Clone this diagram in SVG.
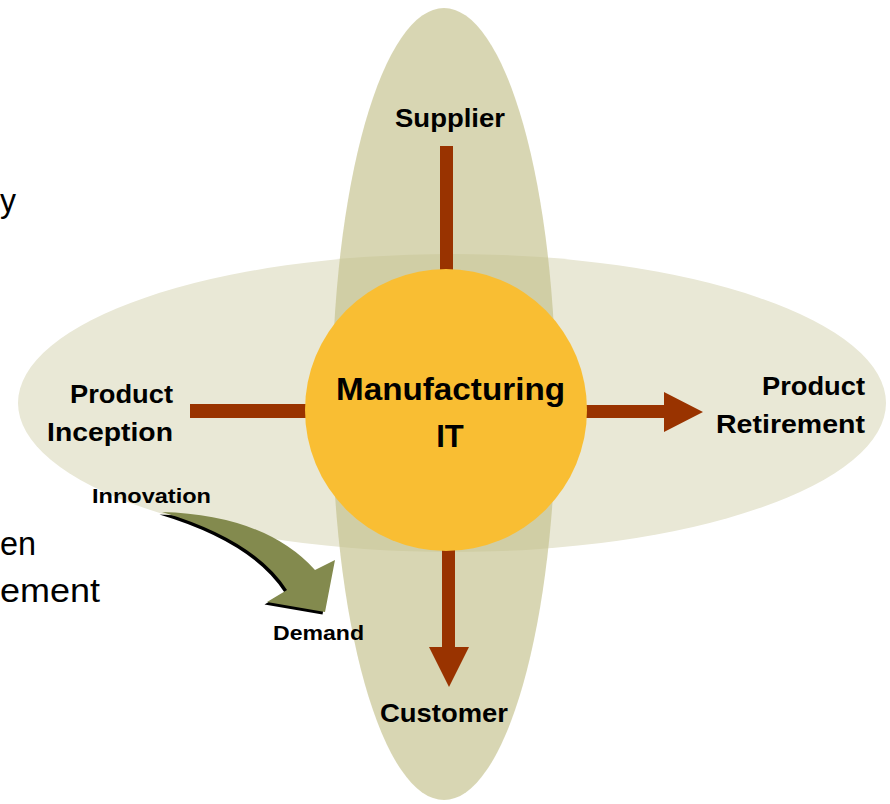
<svg xmlns="http://www.w3.org/2000/svg" width="890" height="804" viewBox="0 0 890 804">
<style>
.lbl{font-family:"Liberation Sans",Arial,sans-serif;font-weight:bold;fill:#000}
.side{font-family:"Liberation Sans",Arial,sans-serif;font-size:34px;fill:#000}
.arr{fill:#993300}
</style>
<defs>
<path id="curve" d="M162,512 Q265,515 315,570 L335,560 L325,612 L267,602 L287,590 Q255,540 162,512 Z"/>
</defs>
<rect width="890" height="804" fill="#fff"/>
<text class="side" x="0" y="212" textLength="16" lengthAdjust="spacingAndGlyphs">y</text>
<text class="side" x="0" y="555" textLength="36" lengthAdjust="spacingAndGlyphs">en</text>
<text class="side" x="0" y="602" textLength="100" lengthAdjust="spacingAndGlyphs">ement</text>
<g id="horizontal-ellipse"><ellipse cx="452" cy="403" rx="434" ry="149" fill="#e9e8d6"/></g>
<g id="vertical-ellipse"><ellipse cx="444" cy="404" rx="112" ry="396" fill="#c3c08a" fill-opacity="0.65"/></g>
<g id="connectors">
<rect class="arr" x="440" y="146" width="13" height="130"/>
<rect class="arr" x="190" y="404" width="120" height="14"/>
<path class="arr" d="M580,405 L664,405 L664,392 L703,412 L664,432 L664,418 L580,418 Z"/>
<path class="arr" d="M442,545 L442,647 L429,647 L449,687 L469,647 L455,647 L455,545 Z"/>
<use href="#curve" transform="translate(-2.5,2.5)" fill="#000"/>
<use href="#curve" fill="#838a4e"/>
</g>
<g id="manufacturing-it">
<circle cx="446" cy="410" r="141" fill="#f9be33"/>
<text class="lbl" font-size="31" x="336" y="400" textLength="229" lengthAdjust="spacingAndGlyphs">Manufacturing</text>
<text class="lbl" font-size="31" x="450" y="447" text-anchor="middle">IT</text>
</g>
<g id="supplier"><text class="lbl" font-size="26" x="395" y="127" textLength="110" lengthAdjust="spacingAndGlyphs">Supplier</text></g>
<g id="customer"><text class="lbl" font-size="26" x="380" y="722" textLength="128" lengthAdjust="spacingAndGlyphs">Customer</text></g>
<g id="product-inception">
<text class="lbl" font-size="26" x="70" y="403" textLength="103" lengthAdjust="spacingAndGlyphs">Product</text>
<text class="lbl" font-size="26" x="47" y="441" textLength="126" lengthAdjust="spacingAndGlyphs">Inception</text>
</g>
<g id="product-retirement">
<text class="lbl" font-size="26" x="762" y="395" textLength="103" lengthAdjust="spacingAndGlyphs">Product</text>
<text class="lbl" font-size="26" x="716" y="433" textLength="149" lengthAdjust="spacingAndGlyphs">Retirement</text>
</g>
<g id="innovation"><text class="lbl" font-size="20" x="92" y="503" textLength="119" lengthAdjust="spacingAndGlyphs">Innovation</text></g>
<g id="demand"><text class="lbl" font-size="20" x="273" y="640" textLength="91" lengthAdjust="spacingAndGlyphs">Demand</text></g>
</svg>
